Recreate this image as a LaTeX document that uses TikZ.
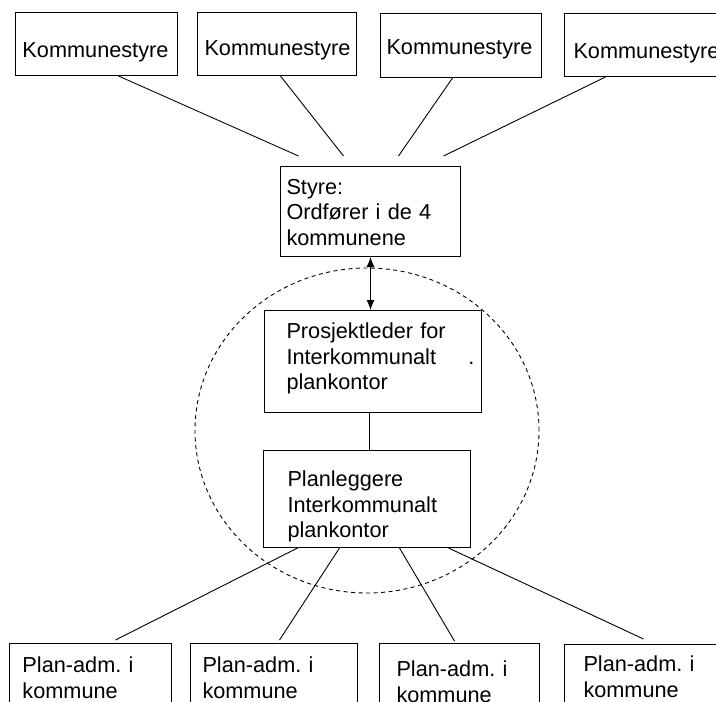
\documentclass[tikz,border=0pt]{standalone}
\usepackage{fontspec}
\setmainfont{Liberation Sans}
\usetikzlibrary{arrows.meta}
\tikzset{
	box/.style={draw=black, line width=1pt, anchor=north west, align=left, inner ysep=0pt, font=\fontsize{21.7pt}{25.7pt}\selectfont},
	link/.style={draw=black, line width=0.9pt},
	ring/.style={draw=black, line width=0.9pt, dash pattern=on 4pt off 3.5pt}
}
\hyphenpenalty=10000
\exhyphenpenalty=10000
\frenchspacing

\begin{document}
\begin{tikzpicture}[x=1pt, y=-1pt, >={Latex[length=10pt, width=8pt]}]

	\useasboundingbox (0,0) rectangle (716,702);
	\clip (0,0) rectangle (716,702);

	\draw[ring] (367,430.5) ellipse [x radius=172pt, y radius=162.5pt];

	% kommunestyrer
	\node[box, text width=148pt, inner xsep=7pt, text height=45pt, text depth=18pt] (ks1) at (15,12) {Kommunestyre};
	\node[box, text width=145pt, inner xsep=7pt, text height=43pt, text depth=20pt] (ks2) at (197,12) {Kommunestyre};
	\node[box, text width=149pt, inner xsep=6pt, text height=41pt, text depth=23pt] (ks3) at (380,13) {Kommunestyre};
	\node[box, text width=142pt, inner xsep=9pt, text height=45pt, text depth=18pt] (ks4) at (564,13) {Kommunestyre};

	\node[box, text width=168pt, inner xsep=6pt, text height=27.5pt, text depth=62.5pt] (styre) at (280,166) {Styre:\\Ordfører i de 4\\kommunene};
	\node[box, text width=173pt, inner xsep=22pt, text height=28pt, text depth=74pt] (leder) at (264,310) {Prosjektleder for\\Interkommunalt\rlap{ \hspace{25pt}.}\\plankontor};
	\node[box, text width=159pt, inner xsep=24pt, text height=36pt, text depth=61pt] (plan) at (263,450) {Planleggere\\Interkommunalt\\plankontor};

	% plan-adm.
	\node[box, text width=136pt, inner xsep=13pt, text height=29pt, text depth=80pt] (pa1) at (9,643) {Plan-adm. i\\kommune};
	\node[box, text width=143pt, inner xsep=12pt, text height=29pt, text depth=80pt] (pa2) at (190,643) {Plan-adm. i\\kommune};
	\node[box, text width=126pt, inner xsep=17pt, text height=33pt, text depth=80pt] (pa3) at (379,643) {Plan-adm. i\\kommune};
	\node[box, text width=128pt, inner xsep=19pt, text height=27pt, text depth=80pt] (pa4) at (564,644) {Plan-adm. i\\kommune};

	\coordinate (s1) at ([xshift=-72pt, yshift=10pt]styre.north);
	\coordinate (s2) at ([xshift=-27pt, yshift=10pt]styre.north);
	\coordinate (s3) at ([xshift=28pt, yshift=10pt]styre.north);
	\coordinate (s4) at ([xshift=73pt, yshift=10pt]styre.north);

	\draw[link] ([xshift=22pt]ks1.south) -- (s1);
	\draw[link] ([xshift=3.5pt]ks2.south) -- (s2);
	\draw[link] ([xshift=-8.5pt]ks3.south) -- (s3);
	\draw[link] ([xshift=-39pt]ks4.south) -- (s4);

	\draw[link, line width=1.2pt, <->] (styre.south) -- (styre.south |- leder.north);
	\draw[link] ([xshift=-3.5pt]leder.south) -- ([xshift=-3.5pt]leder.south |- plan.north);

	% til kommunene
	\coordinate (p1) at ([xshift=25pt, yshift=3pt]pa1.north);
	\coordinate (p2) at ([xshift=5.5pt, yshift=3pt]pa2.north);
	\coordinate (p3) at ([xshift=-5pt, yshift=2pt]pa3.north);
	\coordinate (p4) at ([xshift=-4pt, yshift=5pt]pa4.north);

	\draw[link] ([xshift=-69.5pt]plan.south) -- (p1);
	\draw[link] ([xshift=-27.5pt]plan.south) -- (p2);
	\draw[link] ([xshift=32.5pt]plan.south) -- (p3);
	\draw[link] ([xshift=81.5pt]plan.south) -- (p4);

\end{tikzpicture}
\end{document}
